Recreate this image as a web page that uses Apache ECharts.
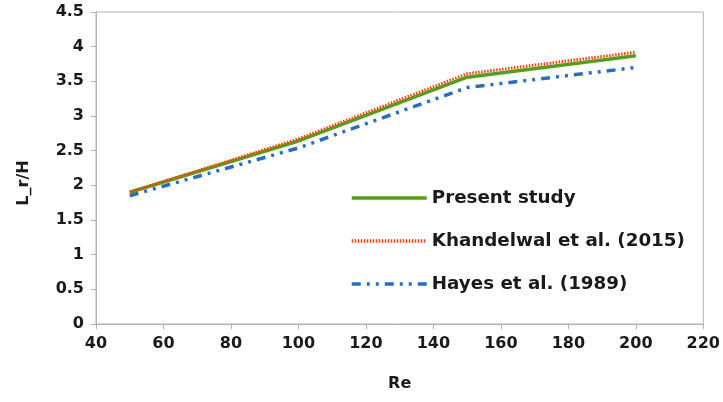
<!DOCTYPE html>
<html><head><meta charset="utf-8">
<script src="https://cdn.jsdelivr.net/npm/echarts@6/dist/echarts.min.js"></script>
<style>html,body{margin:0;padding:0;background:#fff}#c{width:723px;height:402px}</style>
</head><body><div id="c"></div>
<script>
const reValues = [50, 100, 150, 200];
const presentStudy = [1.9, 2.64, 3.56, 3.87];
const khandelwal = [1.9, 2.67, 3.61, 3.92];
const hayes = [1.85, 2.54, 3.41, 3.7];
const seriesNames = ['Present study', 'Khandelwal et al. (2015)', 'Hayes et al. (1989)'];

const pairs = v => reValues.map((x, i) => [x, v[i]]);
const font = 'DejaVu Sans, Liberation Sans, Arial, sans-serif';
const txt = {fontFamily: font, fontWeight: 'bold', fontSize: 16, color: '#1a1a1a'};
const chart = echarts.init(document.getElementById('c'));
chart.setOption({
  animation: false,
  textStyle: {fontFamily: font},
  grid: {left: 96, right: 19, top: 12, bottom: 78, show: true, borderColor: '#b3b3b3', borderWidth: 1},
  legend: {
    orient: 'vertical', left: 345, top: 184, itemWidth: 75, itemHeight: 14, itemGap: 25,
    itemStyle: {opacity: 0},
    lineStyle: {width: 3.5},
    textStyle: Object.assign({}, txt, {fontSize: 18.3}),
    data: seriesNames
  },
  xAxis: {
    type: 'value', min: 40, max: 220, interval: 20,
    name: 'Re', nameLocation: 'middle', nameGap: 52,
    nameTextStyle: txt,
    axisLine: {show: true, lineStyle: {color: '#b3b3b3'}},
    axisTick: {show: true, length: 5, lineStyle: {color: '#b3b3b3'}},
    axisLabel: Object.assign({margin: 12}, txt),
    splitLine: {show: false}
  },
  yAxis: {
    type: 'value', min: 0, max: 4.5, interval: 0.5,
    name: 'L_r/H', nameLocation: 'middle', nameGap: 64, nameRotate: 90,
    nameTextStyle: Object.assign({}, txt, {padding: [0, 30, 0, 0]}),
    axisLine: {show: true, lineStyle: {color: '#b3b3b3'}},
    axisTick: {show: true, length: 5, lineStyle: {color: '#b3b3b3'}},
    axisLabel: Object.assign({margin: 12}, txt),
    splitLine: {show: false}
  },
  series: [
    {name: seriesNames[0], type: 'line', data: pairs(presentStudy), symbol: 'none',
     lineStyle: {color: '#579d1c', width: 3.5}, itemStyle: {color: '#579d1c'}},
    {name: seriesNames[1], type: 'line', data: pairs(khandelwal), symbol: 'none',
     lineStyle: {color: '#ff420e', width: 3, type: [1.5, 1.5]}, itemStyle: {color: '#ff420e'}},
    {name: seriesNames[2], type: 'line', data: pairs(hayes), symbol: 'none',
     lineStyle: {color: '#2a6ebb', width: 3.5, type: [9, 6, 3, 6, 3, 6]}, itemStyle: {color: '#2a6ebb'}}
  ]
});
</script></body></html>
